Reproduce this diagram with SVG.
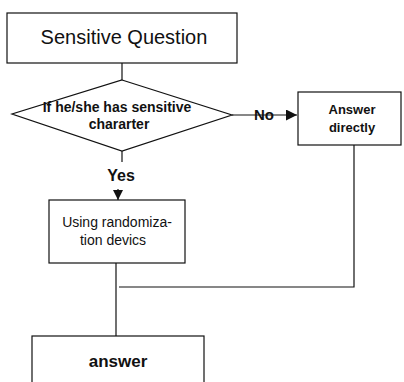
<svg xmlns="http://www.w3.org/2000/svg" width="404" height="382" viewBox="0 0 404 382">
<style>
.box{fill:#fff;stroke:#111;stroke-width:1.2}
.ln{fill:none;stroke:#111;stroke-width:1.2}
text{font-family:"Liberation Sans",Arial,sans-serif;fill:#111;text-anchor:middle}
.b{font-weight:bold}
</style>
<defs>
<marker id="ah" viewBox="0 0 10 10" refX="10" refY="5" markerWidth="10" markerHeight="10" markerUnits="userSpaceOnUse" orient="auto">
<path d="M0,0 L10,5 L0,10 Z" fill="#111"/>
</marker>
<marker id="ah2" viewBox="0 0 10 10" refX="10" refY="5" markerWidth="13" markerHeight="11" markerUnits="userSpaceOnUse" orient="auto">
<path d="M0,0 L10,5 L0,10 Z" fill="#111"/>
</marker>
</defs>
<rect width="404" height="382" fill="#fff"/>
<g id="connectors">
<line class="ln" x1="122" y1="63" x2="122" y2="80"/>
<line class="ln" x1="232" y1="115" x2="297" y2="115" marker-end="url(#ah2)"/>
<line class="ln" x1="122" y1="151" x2="122" y2="162"/>
<line class="ln" x1="118" y1="189" x2="118" y2="200" marker-end="url(#ah)"/>
<line class="ln" x1="116" y1="263" x2="116" y2="336"/>
<polyline class="ln" points="354,145 354,287 119,287"/>
<text class="b" x="264" y="120" font-size="15">No</text>
<text class="b" x="121" y="181" font-size="16">Yes</text>
</g>
<g id="sensitive-question">
<rect class="box" x="7" y="13" width="230" height="50"/>
<text x="124" y="44" font-size="20">Sensitive Question</text>
</g>
<g id="decision">
<polygon class="box" points="122,80 232,115 122,151 12,114"/>
<text class="b" x="117" y="112" font-size="14">If he/she has sensitive</text>
<text class="b" x="119" y="129" font-size="14">chararter</text>
</g>
<g id="answer-directly">
<rect class="box" x="298" y="92" width="103" height="53"/>
<text class="b" x="352" y="114" font-size="13">Answer</text>
<text class="b" x="352" y="132" font-size="13">directly</text>
</g>
<g id="randomization">
<rect class="box" x="49" y="200" width="136" height="63"/>
<text x="117" y="227" font-size="14">Using randomiza-</text>
<text x="113" y="245" font-size="14">tion devics</text>
</g>
<g id="answer">
<rect class="box" x="32" y="336" width="172" height="60"/>
<text class="b" x="118" y="367" font-size="17">answer</text>
</g>
</svg>
